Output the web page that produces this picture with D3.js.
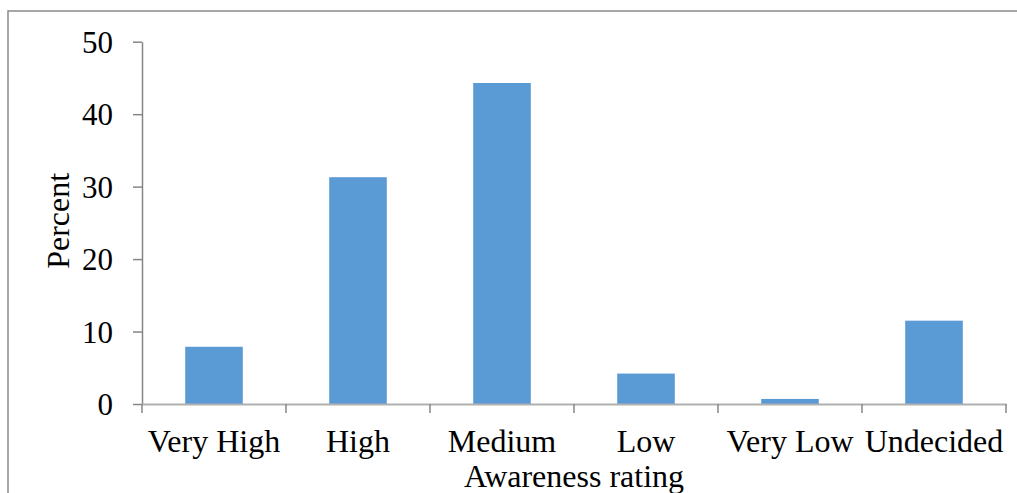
<!DOCTYPE html>
<html>
<head>
<meta charset="utf-8">
<script src="https://cdn.jsdelivr.net/npm/d3@7"></script>
<style>
  html, body { margin: 0; padding: 0; background: #fff; }
  svg { display: block; }
  text { font-family: "Liberation Serif", "Times New Roman", serif; fill: #000; }
</style>
</head>
<body>
<svg id="chart" width="1017" height="493"></svg>
<script>
// Awareness rating survey results (percent of respondents)
const categories = ["Very High", "High", "Medium", "Low", "Very Low", "Undecided"];
const percents = [7.9, 31.3, 44.3, 4.2, 0.7, 11.5];
const yTicks = [0, 10, 20, 30, 40, 50];

const svg = d3.select("#chart");

// outer chart frame
svg.append("rect")
  .attr("x", 8).attr("y", 11)
  .attr("width", 1030).attr("height", 500)
  .attr("fill", "none")
  .attr("stroke", "#8a8a8a")
  .attr("stroke-width", 1.5);

const plot = { left: 142, right: 1006, top: 41.7, bottom: 404 };

const x = d3.scaleBand()
  .domain(categories)
  .range([plot.left, plot.right])
  .paddingInner(0)
  .paddingOuter(0);

const y = d3.scaleLinear()
  .domain([0, 50])
  .range([plot.bottom, plot.top]);

// bars
const barFrac = 0.4;
svg.append("g")
  .selectAll("rect")
  .data(categories)
  .join("rect")
  .attr("x", (d) => x(d) + x.bandwidth() * (1 - barFrac) / 2)
  .attr("width", x.bandwidth() * barFrac)
  .attr("y", (d, i) => y(percents[i]))
  .attr("height", (d, i) => y(0) - y(percents[i]))
  .attr("fill", "#5b9bd5");

// y axis
const yAxis = svg.append("g")
  .attr("transform", `translate(${plot.left},0)`)
  .call(d3.axisLeft(y).tickValues(yTicks).tickSize(9).tickSizeOuter(0).tickPadding(20));
yAxis.select(".domain").attr("stroke", "#868686").attr("stroke-width", 1.5);
yAxis.selectAll(".tick line").attr("stroke", "#868686").attr("stroke-width", 1.5);
yAxis.selectAll(".tick text")
  .attr("font-size", 31)
  .attr("font-family", "Liberation Serif, Times New Roman, serif")
  .attr("fill", "#000")
  .attr("dy", "0.34em");

// x axis
const xAxis = svg.append("g")
  .attr("transform", `translate(0,${plot.bottom})`)
  .call(d3.axisBottom(x).tickSize(0).tickPadding(25));
xAxis.select(".domain").attr("stroke", "#b0b0b0").attr("stroke-width", 2);
xAxis.selectAll(".tick text")
  .attr("font-size", 32)
  .attr("font-family", "Liberation Serif, Times New Roman, serif")
  .attr("fill", "#000");

// category separator ticks on the x axis
const bounds = categories.map((d) => x(d)).concat([plot.right]);
svg.append("g")
  .selectAll("line")
  .data(bounds)
  .join("line")
  .attr("x1", (d) => d).attr("x2", (d) => d)
  .attr("y1", plot.bottom).attr("y2", plot.bottom + 9)
  .attr("stroke", "#868686")
  .attr("stroke-width", 1.5);

// axis titles
svg.append("text")
  .attr("x", (plot.left + plot.right) / 2)
  .attr("y", 487)
  .attr("text-anchor", "middle")
  .attr("font-size", 32)
  .text("Awareness rating");

svg.append("text")
  .attr("transform", `translate(69,${(plot.top + plot.bottom) / 2 - 2}) rotate(-90)`)
  .attr("text-anchor", "middle")
  .attr("font-size", 32)
  .text("Percent");
</script>
</body>
</html>
